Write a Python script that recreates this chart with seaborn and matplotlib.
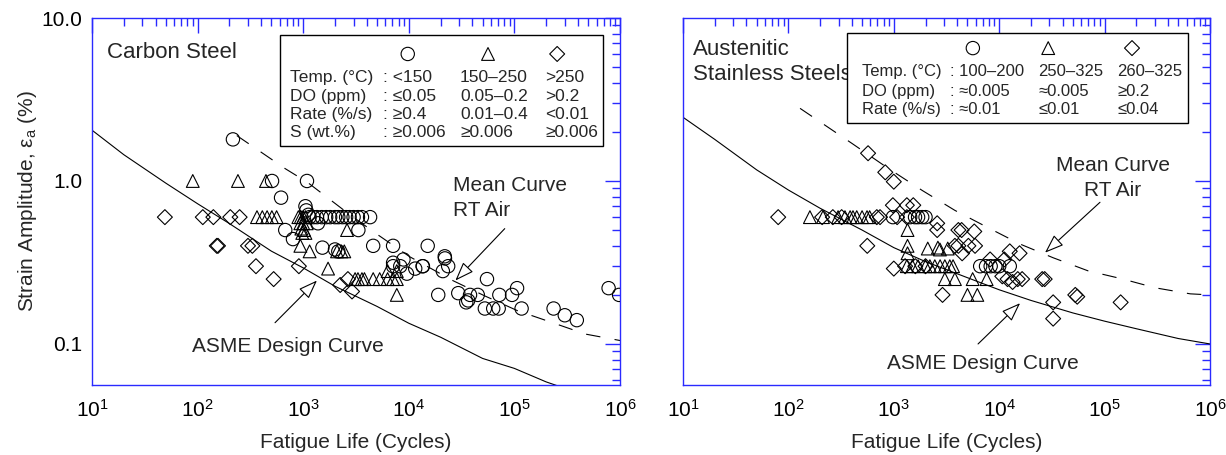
import numpy as np
import pandas as pd
import matplotlib
matplotlib.use("Agg")
import matplotlib.pyplot as plt
import matplotlib.ticker as mticker
from matplotlib.patches import Rectangle
import seaborn as sns

# ---------------- data ----------------
# Carbon steel
cs_circ_N = [216, 507, 1086, 617, 1050, 1070, 1120,
             1150, 1250, 1350, 1500, 1650, 1800, 2000, 2150, 2350, 2550, 2750, 3000, 3300, 3600, 4300,
             1380, 676, 800, 1520, 2000, 2150, 3330, 4600, 7100, 15100,
             7100, 8300, 8900, 9600, 11500, 13600, 7100, 13500,
             21900, 22000, 23600, 21000, 19000, 29400, 35000, 36500, 45000, 38000,
             52500, 63000, 71000, 55000, 72000, 95000, 106000, 117000,
             235000, 300000, 390000, 780000, 980000]
cs_circ_e = [1.8, 1.0, 1.0, 0.79, 0.70, 0.66, 0.62,
             0.6, 0.6, 0.6, 0.6, 0.6, 0.6, 0.6, 0.6, 0.6, 0.6, 0.6, 0.6, 0.6, 0.6, 0.6,
             0.55, 0.50, 0.44, 0.39, 0.38, 0.37, 0.50, 0.40, 0.40, 0.40,
             0.315, 0.30, 0.33, 0.27, 0.29, 0.30, 0.30, 0.30,
             0.345, 0.335, 0.30, 0.28, 0.20, 0.205, 0.18, 0.185, 0.20, 0.20,
             0.165, 0.165, 0.165, 0.25, 0.20, 0.20, 0.22, 0.165,
             0.165, 0.15, 0.14, 0.22, 0.20]

cs_tri_N = [90, 241, 444,
            365, 410, 455, 505, 560,
            900, 950, 1000, 1050, 940, 1000, 1080, 960, 1020, 980, 1050, 940, 1150,
            2600, 2090, 2300, 2450, 1720,
            3100, 3300, 3600, 3800, 4600, 5300, 6300, 7100, 7700,
            6300, 7700, 7700]
cs_tri_e = [1.0, 1.0, 1.0,
            0.6, 0.6, 0.6, 0.6, 0.6,
            0.6, 0.6, 0.6, 0.6, 0.55, 0.55, 0.55, 0.51, 0.50, 0.48, 0.48, 0.40, 0.37,
            0.50, 0.37, 0.37, 0.37, 0.29,
            0.25, 0.25, 0.25, 0.25, 0.25, 0.25, 0.25, 0.25, 0.25,
            0.28, 0.28, 0.20]

cs_dia_N = [49, 112, 141, 204, 250, 152, 156, 300, 330, 357, 525, 910, 2240, 2650, 2900]
cs_dia_e = [0.6, 0.6, 0.6, 0.6, 0.6, 0.4, 0.4, 0.4, 0.4, 0.30, 0.25, 0.30, 0.23, 0.25, 0.21]

cs_asme_N = [10, 20, 50, 100, 200, 500, 1e3, 2e3, 5e3, 1e4, 2e4, 5e4, 1e5, 2e5, 5e5, 1e6]
cs_asme_e = [2.05, 1.45, 0.97, 0.725, 0.548, 0.371, 0.293, 0.226, 0.170, 0.134, 0.110,
             0.0815, 0.0708, 0.0585, 0.0477, 0.0441]
cs_mean_N = [235, 676, 1100, 2600, 4800, 10200, 26400, 52600, 107000, 230000, 470000, 1e6]
cs_mean_e = [1.9, 1.19, 0.98, 0.64, 0.48, 0.343, 0.244, 0.197, 0.16, 0.135, 0.115, 0.105]

# Austenitic stainless steels
ss_circ_N = [980, 1430, 1590, 1700, 1860, 2000, 6600, 7500, 8300, 9200, 10000, 12600]
ss_circ_e = [0.6, 0.6, 0.6, 0.6, 0.6, 0.6, 0.30, 0.30, 0.30, 0.30, 0.30, 0.30]

ss_tri_N = [160, 213, 296, 344, 385, 410, 445, 500, 557, 590,
            1350, 1350, 1350, 2100, 2620, 2740, 3250,
            1330, 1500, 1700, 2000, 2200, 2450, 2750, 3050, 3400, 3650,
            3050, 3800, 5600, 7600, 5000, 6200]
ss_tri_e = [0.6, 0.6, 0.6, 0.6, 0.6, 0.6, 0.6, 0.6, 0.6, 0.6,
            0.5, 0.40, 0.36, 0.385, 0.39, 0.38, 0.385,
            0.3, 0.3, 0.3, 0.3, 0.3, 0.3, 0.3, 0.3, 0.3, 0.3,
            0.25, 0.25, 0.25, 0.25, 0.2, 0.2]

ss_dia_N = [80, 209, 264, 320, 690, 740, 1075, 1330,
            570, 830, 1000, 980, 1330, 1530, 560, 1000,
            2580, 2580, 4100, 4400, 5800, 3800, 4100, 5100, 5900, 4450, 2900,
            1280, 2000, 1600, 8200, 11200,
            10700, 12000, 13400, 15000, 16500, 25600, 27000, 12600, 15600,
            32500, 32500, 52700, 55000, 142000]
ss_dia_e = [0.6, 0.6, 0.6, 0.6, 0.6, 0.6, 0.6, 0.6,
            1.48, 1.13, 0.99, 0.71, 0.71, 0.71, 0.40, 0.29,
            0.55, 0.50, 0.5, 0.5, 0.49, 0.4, 0.4, 0.4, 0.4, 0.36, 0.2,
            0.3, 0.3, 0.3, 0.33, 0.33,
            0.26, 0.25, 0.24, 0.25, 0.25, 0.25, 0.25, 0.37, 0.36,
            0.18, 0.143, 0.2, 0.195, 0.18]

ss_asme_N = [10, 20, 50, 100, 200, 500, 1e3, 2e3, 5e3, 1e4, 2e4, 5e4, 1e5, 2e5, 5e5, 1e6]
ss_asme_e = [2.46, 1.80, 1.17, 0.88, 0.68, 0.50, 0.39, 0.32, 0.255, 0.215, 0.185, 0.155,
             0.138, 0.124, 0.108, 0.100]
ss_mean_N = [129, 401, 861, 1860, 3800, 7700, 15800, 32500, 69600, 146000, 303000, 650000, 1e6]
ss_mean_e = [2.79, 1.70, 1.21, 0.875, 0.66, 0.52, 0.41, 0.338, 0.281, 0.251, 0.221, 0.203, 0.20]

x_ticks = [1e1, 1e2, 1e3, 1e4, 1e5, 1e6]
y_ticks = [0.1, 1.0, 10.0]
y_ticklabels = ["0.1", "1.0", "10.0"]

cs_leg_rows = ["Temp. (°C)", "DO (ppm)", "Rate (%/s)", "S (wt.%)"]
cs_leg_c1 = [": <150", ": ≤0.05", ": ≥0.4", ": ≥0.006"]
cs_leg_c2 = ["150–250", "0.05–0.2", "0.01–0.4", "≥0.006"]
cs_leg_c3 = [">250", ">0.2", "<0.01", "≥0.006"]

ss_leg_rows = ["Temp. (°C)", "DO (ppm)", "Rate (%/s)"]
ss_leg_c1 = [": 100–200", ": ≈0.005", ": ≈0.01"]
ss_leg_c2 = ["250–325", "≈0.005", "≤0.01"]
ss_leg_c3 = ["260–325", "≥0.2", "≤0.04"]

# ---------------- style ----------------
sns.set_theme(style="white")
FONT = ["Liberation Sans", "DejaVu Sans"]
plt.rcParams["font.family"] = FONT
plt.rcParams["mathtext.fontset"] = "custom"
plt.rcParams["mathtext.rm"] = "Liberation Sans"
plt.rcParams["mathtext.it"] = "Liberation Sans:italic"
plt.rcParams["mathtext.bf"] = "Liberation Sans:bold"

BLUE = "#2a2aff"
W, H = 1226, 455
fig = plt.figure(figsize=(W / 100, H / 100), dpi=100)
top_px, bot_px = 18, 385
axL = fig.add_axes([92 / W, 1 - bot_px / H, 528 / W, (bot_px - top_px) / H])
axR = fig.add_axes([683 / W, 1 - bot_px / H, 527 / W, (bot_px - top_px) / H])

MS = dict(o=92, **{"^": 85, "D": 58})


def draw_points(ax, N, e, marker):
    df = pd.DataFrame({"N": N, "e": e})
    sns.scatterplot(data=df, x="N", y="e", marker=marker, s=MS[marker],
                    facecolor="none", edgecolor="black", linewidth=0.8,
                    ax=ax, zorder=3, legend=False)


def draw_curve(ax, N, e, dashed):
    df = pd.DataFrame({"N": N, "e": e})
    ls = (0, (13, 13)) if dashed else "-"
    sns.lineplot(data=df, x="N", y="e", color="black", linewidth=0.8, linestyle=ls,
                 sort=False, estimator=None, ax=ax, zorder=2)


def style_axes(ax, show_y):
    ax.set_xscale("log")
    ax.set_yscale("log")
    ax.set_xlim(10, 1e6)
    ax.set_ylim(0.056, 10)
    for sp in ax.spines.values():
        sp.set_color(BLUE)
        sp.set_linewidth(1.0)
        sp.set_visible(True)
    ax.xaxis.set_major_locator(mticker.FixedLocator(x_ticks))
    ax.xaxis.set_minor_locator(mticker.LogLocator(base=10, subs=np.arange(2, 10)))
    ax.xaxis.set_major_formatter(mticker.LogFormatterMathtext())
    ax.xaxis.set_minor_formatter(mticker.NullFormatter())
    ax.yaxis.set_major_locator(mticker.FixedLocator(y_ticks))
    ax.yaxis.set_minor_locator(mticker.LogLocator(base=10, subs=np.arange(2, 10)))
    ax.yaxis.set_minor_formatter(mticker.NullFormatter())
    if show_y:
        ax.yaxis.set_major_formatter(mticker.FixedFormatter(y_ticklabels))
    else:
        ax.yaxis.set_major_formatter(mticker.NullFormatter())
    ax.tick_params(which="both", direction="in", top=True, right=True, color=BLUE,
                   labelcolor="black", labelsize=15)
    ax.tick_params(which="major", length=11, width=1.0, pad=7)
    ax.tick_params(which="minor", length=5.5, width=1.0)
    ax.tick_params(axis="x", which="major", pad=10)
    ax.set_xlabel("Fatigue Life (Cycles)", fontsize=15, labelpad=9)
    if show_y:
        ax.set_ylabel("Strain Amplitude, $\\mathregular{ε_a}$ (%)", fontsize=15, labelpad=2)
    else:
        ax.set_ylabel("")
    ax.grid(False)
    ax.set_facecolor("white")


def legend_box(ax, box, marker_y, marker_x, rows, cols, row_y, col_x, fs=12.5):
    ax.add_patch(Rectangle((box[0], box[1]), box[2] - box[0], box[3] - box[1],
                           transform=ax.transAxes, facecolor="white", edgecolor="black",
                           linewidth=1.0, zorder=5))
    for mx, mk in zip(marker_x, ["o", "^", "D"]):
        ax.scatter([mx], [marker_y], marker=mk, s=MS[mk], facecolor="none",
                   edgecolor="black", linewidth=0.8, transform=ax.transAxes,
                   zorder=6, clip_on=False)
    for i, y in enumerate(row_y):
        ax.text(col_x[0], y, rows[i], transform=ax.transAxes, fontsize=fs,
                va="center", ha="left", zorder=7)
        for c, cx in zip(cols, col_x[1:]):
            ax.text(cx, y, c[i], transform=ax.transAxes, fontsize=fs,
                    va="center", ha="left", zorder=7)


arrow_kw = dict(arrowstyle="-|>,head_length=0.9,head_width=0.33", fc="white",
                ec="black", lw=0.8, mutation_scale=13, shrinkA=0, shrinkB=0)

# ---------------- left: carbon steel ----------------
draw_curve(axL, cs_asme_N, cs_asme_e, False)
draw_curve(axL, cs_mean_N, cs_mean_e, True)
draw_points(axL, cs_circ_N, cs_circ_e, "o")
draw_points(axL, cs_tri_N, cs_tri_e, "^")
draw_points(axL, cs_dia_N, cs_dia_e, "D")
style_axes(axL, True)

axL.text(0.028, 0.907, "Carbon Steel", transform=axL.transAxes, fontsize=16,
         va="center", ha="left")
legend_box(axL, (0.356, 0.651, 0.968, 0.954), 0.902, [0.598, 0.750, 0.881],
           cs_leg_rows, [cs_leg_c1, cs_leg_c2, cs_leg_c3],
           [0.837, 0.787, 0.738, 0.689], [0.375, 0.551, 0.697, 0.858])

axL.text(26300, 0.94, "Mean Curve", fontsize=15, va="center", ha="left")
axL.text(26300, 0.66, "RT Air", fontsize=15, va="center", ha="left")
axL.annotate("", xy=(27600, 0.245), xytext=(81000, 0.51), arrowprops=arrow_kw)
axL.text(88, 0.097, "ASME Design Curve", fontsize=15, va="center", ha="left")
axL.annotate("", xy=(1350, 0.245), xytext=(541, 0.135), arrowprops=arrow_kw)

# ---------------- right: austenitic stainless steels ----------------
draw_curve(axR, ss_asme_N, ss_asme_e, False)
draw_curve(axR, ss_mean_N, ss_mean_e, True)
draw_points(axR, ss_circ_N, ss_circ_e, "o")
draw_points(axR, ss_tri_N, ss_tri_e, "^")
draw_points(axR, ss_dia_N, ss_dia_e, "D")
style_axes(axR, False)

axR.text(0.019, 0.913, "Austenitic", transform=axR.transAxes, fontsize=16,
         va="center", ha="left")
axR.text(0.019, 0.845, "Stainless Steels", transform=axR.transAxes, fontsize=16,
         va="center", ha="left")
legend_box(axR, (0.311, 0.714, 0.958, 0.959), 0.918, [0.550, 0.693, 0.852],
           ss_leg_rows, [ss_leg_c1, ss_leg_c2, ss_leg_c3],
           [0.854, 0.801, 0.750], [0.340, 0.507, 0.674, 0.824], fs=12)

axR.text(120000, 1.24, "Mean Curve", fontsize=15, va="center", ha="center")
axR.text(120000, 0.875, "RT Air", fontsize=15, va="center", ha="center")
axR.annotate("", xy=(27200, 0.363), xytext=(90400, 0.74), arrowprops=arrow_kw)
axR.text(861, 0.076, "ASME Design Curve", fontsize=15, va="center", ha="left")
axR.annotate("", xy=(15800, 0.178), xytext=(6300, 0.1), arrowprops=arrow_kw)

fig.savefig("out.png", dpi=100, facecolor="white")
